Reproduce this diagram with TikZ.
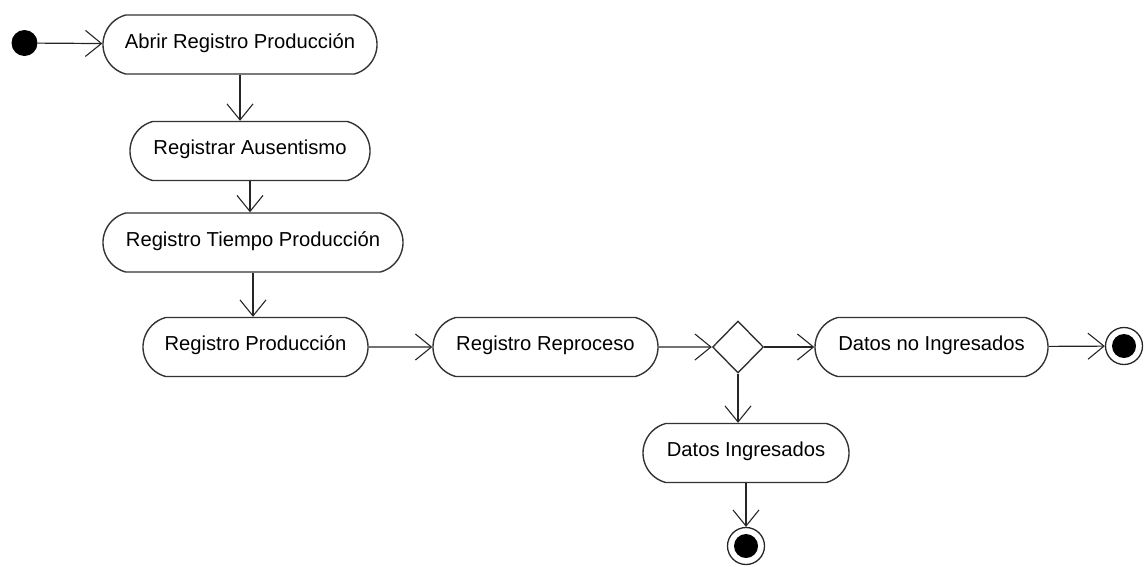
\documentclass[tikz,border=0pt]{standalone}
\usepackage{fontspec}
\setmainfont{Liberation Sans}
\usetikzlibrary{shapes.misc,shapes.geometric,arrows.meta}
\begin{document}
\begin{tikzpicture}[x=1pt,y=-1pt,
  act/.style={rounded rectangle, rounded rectangle arc length=150,
    draw=black!80, line width=1.4pt, fill=white, minimum height=59pt,
    inner sep=0pt, font=\fontsize{20.2}{24}\selectfont,
    text height=14pt, text depth=7pt},
  decision/.style={diamond, draw=black!80, line width=1.4pt, fill=white,
    minimum width=51pt, minimum height=52pt, inner sep=0pt},
  startstate/.style={circle, fill=black, minimum size=26pt, inner sep=0pt},
  endstate/.style={circle, draw=black!85, line width=1.3pt, minimum size=37pt,
    inner sep=0pt, path picture={\fill[black] (path picture bounding box.center) circle (12pt);}},
  flow/.style={draw=black!85, line width=1.2pt,
    -{Straight Barb[length=16pt,width=26pt,line width=1.1pt]}}]

\useasboundingbox (0,0) rectangle (1145,566);

% activity states
\node[act, minimum width=274pt] (abrir)  at (240,44.5)  {Abrir Registro Producción};
\node[act, minimum width=240pt] (aus)    at (250,151)   {Registrar Ausentismo};
\node[act, minimum width=300pt] (tiempo) at (253,242.5) {Registro Tiempo Producción};
\node[act, minimum width=225pt] (prod)   at (255.5,347) {Registro Producción};
\node[act, minimum width=225pt] (repro)  at (545.5,347) {Registro Reproceso};
\node[decision] (dec) at (738,347) {};
\node[act, minimum width=233pt] (nodata) at (931.5,347) {Datos no Ingresados};
\node[act, minimum width=206pt] (data)   at (746,453)   {Datos Ingresados};

% initial and final states
\node[startstate] (ini)  at (24.5,43)  {};
\node[endstate]   (finR) at (1124,346) {};
\node[endstate]   (finB) at (746,546)  {};

% transitions
\draw[flow] (ini) -- (abrir);
\draw[flow] (abrir.south) -- (abrir.south |- aus.north);
\draw[flow] (aus.south) -- (aus.south |- tiempo.north);
\draw[flow] (tiempo.south) -- (tiempo.south |- prod.north);
\draw[flow] (prod) -- (repro);
\draw[flow] (repro) -- (dec);
\draw[flow] (dec) -- (nodata);
\draw[flow] (nodata) -- (finR);
\draw[flow] (dec.south) -- (dec.south |- data.north);
\draw[flow] (data.south) -- (finB);
\end{tikzpicture}
\end{document}
